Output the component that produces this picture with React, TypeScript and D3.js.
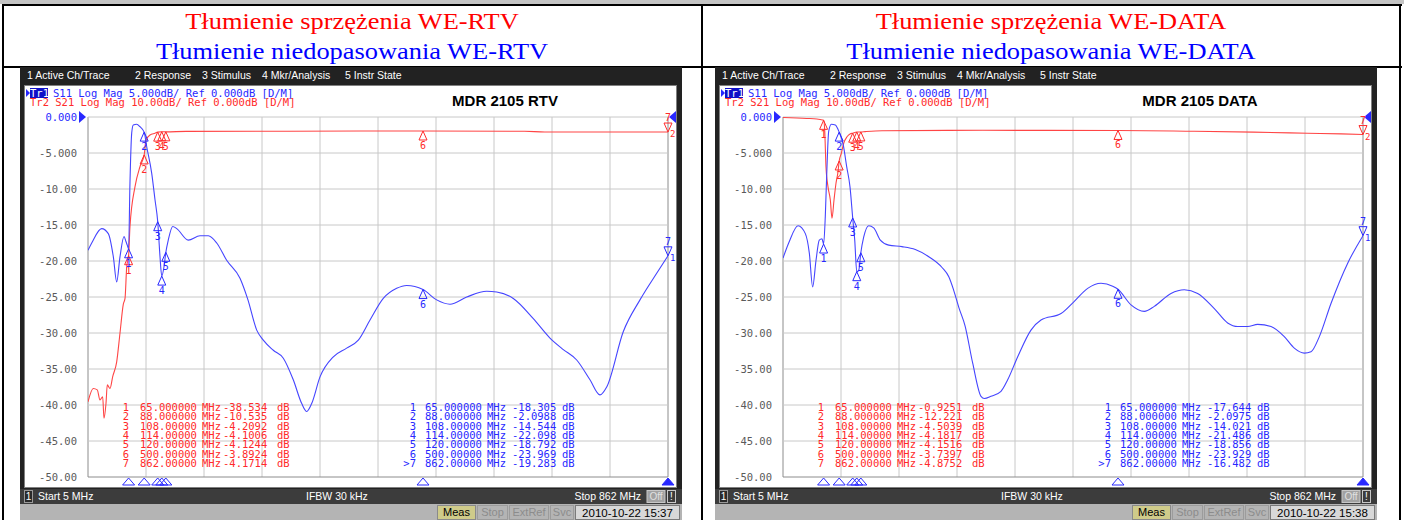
import React from "react";
import * as d3 from "d3";

type Pt = [number, number];

// ---------- DATA (frequency MHz, level dB) ----------
const rtvS11: Pt[] = [
  [5, -18.5], [10.5, -17.5], [25.2, -15.5], [35, -16.2], [42.4, -19.4], [47.4, -22.9], [52.3, -19.4],
  [58.2, -16.6], [61.1, -17.3], [63, -17.8], [65, -18.3], [67, -9.2], [69.6, -2.2], [71.9, -1.1],
  [77, -1.0], [81.8, -1.35], [88, -2.1], [91.7, -4.1], [99.1, -7.8], [104, -11.5], [108, -14.5],
  [111.4, -19.4], [114, -22.1], [117.3, -20.8], [120, -18.8], [123.6, -17.1], [130.2, -15.2],
  [136.1, -15.5], [153.2, -17.1], [170.5, -16.5], [182.8, -16.5], [195.2, -17.5], [209.9, -19.9],
  [229.6, -22.4], [241, -25.3], [254.3, -29.6], [264, -31], [278.8, -32.4], [293.6, -33.5],
  [308.3, -36.5], [320.8, -39.8], [328.2, -40.9], [335.5, -39.8], [347.8, -36.1], [367.5, -33.3],
  [387.2, -32.1], [404.4, -31], [421.7, -28.2], [441.3, -25.2], [461.1, -23.8], [475.9, -23.4],
  [500, -23.97], [520.2, -25.4], [539.9, -26], [564.6, -25], [594.1, -24.2], [608.9, -24.3],
  [633.4, -25.2], [663, -28], [687.6, -30.7], [707.3, -32.3], [727.1, -33.75], [746.7, -36.5],
  [761.5, -38.6], [771.4, -37.5], [796, -29.8], [820.6, -25.4], [845.3, -21.7], [862, -19.28],
];

const rtvS21: Pt[] = [
  [5, -79.1], [12.8, -75.4], [18.7, -75.8], [22.7, -78.6], [26.7, -77.7], [28.6, -83.7], [31.6, -79.5],
  [33.5, -74.4], [37.5, -75.4], [41.5, -72.1], [47.4, -68], [52.3, -60], [57.2, -52], [59.7, -50.4],
  [62.2, -41.6], [65, -38.53], [67, -30.5], [74.4, -19.4], [81.8, -13.8], [88, -10.54], [90.7, -6.4],
  [96.6, -5], [104, -4.5], [108, -4.21], [114, -4.1], [120, -4.12], [150, -4.0], [300, -3.95],
  [500, -3.89], [650, -3.95], [680, -4.15], [862, -4.17],
];

const dataS11: Pt[] = [
  [5, -19.6], [13.4, -17.5], [27.2, -15.1], [38, -16.2], [43.9, -18.9], [48.8, -23.6], [53.8, -19.9],
  [58.6, -17.1], [62.6, -16.9], [65, -17.64], [67.5, -13.8], [70, -6.9], [72.5, -2.0], [76.4, -1.0],
  [82.3, -1.1], [88, -2.1], [94.1, -3.9], [99.1, -6.9], [104, -9.7], [108, -14.02], [111, -17.1],
  [114, -21.49], [116.9, -21.3], [120, -18.86], [124.2, -16.7], [131.6, -15.1], [139, -15.4],
  [148.8, -17.1], [161.2, -17.8], [180.8, -18.0], [200.5, -18.4], [220.3, -19.4], [240, -20.9],
  [250, -22.2], [257, -24], [265, -26.5], [274, -29], [285.3, -34.2], [297.6, -38.8], [302.5, -39.1],
  [312.3, -38.8], [327.1, -38.1], [337, -36.5], [351.8, -33.3], [371.4, -29.6], [386.2, -28.2],
  [415.8, -27.3], [435.4, -25.6], [455.2, -23.8], [474.9, -23.1], [492.2, -23.5], [500, -23.93],
  [519.2, -26.1], [538.9, -27], [553.6, -26.3], [578.3, -24.5], [598, -24], [617.7, -24.5],
  [642.3, -26.6], [662, -28.6], [676.9, -29.1], [691.6, -29.1], [706.4, -28.8], [726.1, -29.1],
  [745.7, -30.5], [760.5, -32.1], [775.3, -32.8], [785.2, -32.6], [797.5, -30.5], [814.7, -25.9],
  [839.4, -20.3], [862, -16.48],
];

const dataS21: Pt[] = [
  [5, -0.15], [40, -0.4], [55, -0.55], [60, -0.7], [65, -0.93], [66.6, -3.6], [68.5, -13.8],
  [71.5, -19.4], [74.9, -23], [77.4, -28.1], [80.4, -23], [83.3, -18.4], [86.3, -15.2], [88, -12.22],
  [91.2, -10.1], [94.7, -7.3], [99.6, -5.5], [104, -4.7], [108, -4.5], [114, -4.18], [120, -4.15],
  [126.6, -4.05], [151.3, -3.8], [300, -3.7], [500, -3.74], [600, -3.95], [700, -4.2], [780, -4.5],
  [830, -4.7], [862, -4.875],
];

const markerFreqs = [65, 88, 108, 114, 120, 500, 862];
const rtvS21Markers = [-38.534, -10.535, -4.2092, -4.1006, -4.1244, -3.8924, -4.1714];
const rtvS11Markers = [-18.305, -2.0988, -14.544, -22.098, -18.792, -23.969, -19.283];
const dataS21Markers = [-0.9251, -12.221, -4.5039, -4.1817, -4.1516, -3.7397, -4.8752];
const dataS11Markers = [-17.644, -2.0975, -14.021, -21.486, -18.856, -23.929, -16.482];

const yTickLabels = ["0.000", "-5.000", "-10.00", "-15.00", "-20.00", "-25.00", "-30.00", "-35.00", "-40.00", "-45.00", "-50.00"];
const menuItems = ["1 Active Ch/Trace", "2 Response", "3 Stimulus", "4 Mkr/Analysis", "5 Instr State"];

// ---------- STYLE ----------
const BLUE_TR = "#4545ff";
const RED_TR = "#ff4545";
const BLUE_TX = "#2828ff";
const RED_TX = "#ff2a2a";
const MONO = "'DejaVu Sans Mono', monospace";
const SANS = "'Liberation Sans', Arial, sans-serif";
const SERIF = "'Liberation Serif', 'Times New Roman', serif";

const fmtVal = (v: number) => {
  const intLen = String(Math.trunc(Math.abs(v))).length;
  return v.toFixed(Math.max(0, 5 - intLen));
};
const fmtFreq = (f: number) => {
  const intLen = String(Math.trunc(f)).length;
  return f.toFixed(Math.max(0, 8 - intLen));
};

type PanelProps = {
  ox: number;
  id: string;
  name: string;
  date: string;
  s11: Pt[];
  s21: Pt[];
  s11m: number[];
  s21m: number[];
};

function Panel({ ox, id, name, date, s11, s21, s11m, s21m }: PanelProps) {
  const x = d3.scaleLinear().domain([5, 862]).range([88, 668]);
  const y11 = d3.scaleLinear().domain([0, -50]).range([117, 477]);
  const y21 = d3.scaleLinear().domain([0, -100]).range([117, 477]);
  const l11 = d3.line<Pt>().x((d) => x(d[0])).y((d) => y11(d[1])).curve(d3.curveMonotoneX);
  const l21 = d3.line<Pt>().x((d) => x(d[0])).y((d) => y21(d[1])).curve(d3.curveMonotoneX);
  const gridF = d3.range(11).map((i) => 5 + (i * 857) / 10);
  const gridY = d3.range(11).map((i) => -5 * i);
  const menuX = [27, 135, 202, 262, 345];
  const rowY = (i: number) => 411 + i * 9.33;

  const passive = (cx: number, cy: number, color: string, label: string, k: string) => (
    <g key={k}>
      <polygon points={`${cx},${cy} ${cx - 4},${cy + 9} ${cx + 4},${cy + 9}`} fill="none" stroke={color} strokeWidth={1} />
      <text x={cx} y={cy + 18} fontFamily={MONO} fontSize={10} fill={color} textAnchor="middle">{label}</text>
    </g>
  );
  const active = (cx: number, cy: number, color: string, label: string, tr: string, k: string) => (
    <g key={k}>
      <polygon points={`${cx - 4},${cy - 9} ${cx + 4},${cy - 9} ${cx},${cy}`} fill="none" stroke={color} strokeWidth={1} />
      <text x={cx} y={cy - 11} fontFamily={MONO} fontSize={10} fill={color} textAnchor="middle">{label}</text>
      <text x={cx + 2} y={cy + 5} fontFamily={MONO} fontSize={9} fill={color}>{tr}</text>
    </g>
  );

  return (
    <g transform={`translate(${ox},0)`}>
      <defs>
        <clipPath id={`clip-${id}`}>
          <rect x={88} y={117} width={580} height={360} />
        </clipPath>
      </defs>
      {/* instrument frame */}
      <rect x={20} y={67} width={662} height={437} fill="#222222" />
      {menuItems.map((m, i) => (
        <text key={m} x={menuX[i]} y={79} fontFamily={SANS} fontSize={10.5} fill="#ffffff">{m}</text>
      ))}
      <rect x={24.5} y={85.5} width={652} height={402} fill="#ffffff" stroke="#808080" />

      {/* trace header */}
      <polygon points="26,89 30,93 26,97" fill={BLUE_TX} />
      <rect x={30} y={88} width={18} height={10} fill="#1010c8" />
      <text x={30} y={96.5} fontFamily={MONO} fontSize={10.5} fill="#ffffff">Tr1</text>
      <text x={53} y={96.5} fontFamily={MONO} fontSize={10.5} fill={BLUE_TX}>S11 Log Mag 5.000dB/ Ref 0.000dB [D/M]</text>
      <text x={30} y={105.5} fontFamily={MONO} fontSize={10.5} fill={RED_TX}>Tr2 S21 Log Mag 10.00dB/ Ref 0.000dB [D/M]</text>
      <text x={505} y={106} fontFamily={SANS} fontSize={15} fontWeight="bold" fill="#000000" textAnchor="middle">{name}</text>

      {/* y labels */}
      {gridY.map((v, i) => (
        <text key={v} x={77} y={y11(v) + 4} fontFamily={MONO} fontSize={10.5} fill={i === 0 ? BLUE_TX : "#5a5a5a"} textAnchor="end">{yTickLabels[i]}</text>
      ))}
      <polygon points={`79,${y11(0) - 6} 86,${y11(0)} 79,${y11(0) + 6}`} fill={BLUE_TX} />
      <polygon points={`676,${y11(0) - 6} 669,${y11(0)} 676,${y11(0) + 6}`} fill={BLUE_TX} />

      {/* grid */}
      {gridF.map((f, i) => (
        <line key={"v" + i} x1={x(f)} x2={x(f)} y1={117} y2={477} stroke={i === 0 || i === 10 ? "#8c8c8c" : "#c8c8c8"} strokeWidth={1} />
      ))}
      {gridY.map((v, i) => (
        <line key={"h" + i} x1={88} x2={668} y1={y11(v)} y2={y11(v)} stroke={i === 10 ? "#8c8c8c" : "#c8c8c8"} strokeWidth={1} />
      ))}

      {/* traces */}
      <g clipPath={`url(#clip-${id})`}>
        <path d={l21(s21) || ""} fill="none" stroke={RED_TR} strokeWidth={1.1} />
        <path d={l11(s11) || ""} fill="none" stroke={BLUE_TR} strokeWidth={1.1} />
      </g>

      {/* markers on traces */}
      {markerFreqs.map((f, i) =>
        i < 6
          ? passive(x(f), y21(s21m[i]), RED_TX, String(i + 1), "r" + i)
          : active(x(f), y21(s21m[i]), RED_TX, String(i + 1), "2", "r" + i)
      )}
      {markerFreqs.map((f, i) =>
        i < 6
          ? passive(x(f), y11(s11m[i]), BLUE_TX, String(i + 1), "b" + i)
          : active(x(f), y11(s11m[i]), BLUE_TX, String(i + 1), "1", "b" + i)
      )}

      {/* marker readouts */}
      {markerFreqs.map((f, i) => (
        <g key={"rr" + i} fontFamily={MONO} fontSize={10.5} fill={RED_TX}>
          <text x={129} y={rowY(i)} textAnchor="end">{String(i + 1)}</text>
          <text x={140} y={rowY(i)}>{fmtFreq(f)}</text>
          <text x={202} y={rowY(i)}>MHz</text>
          <text x={223} y={rowY(i)}>{fmtVal(s21m[i])}</text>
          <text x={277} y={rowY(i)}>dB</text>
        </g>
      ))}
      {markerFreqs.map((f, i) => (
        <g key={"br" + i} fontFamily={MONO} fontSize={10.5} fill={BLUE_TX}>
          <text x={416} y={rowY(i)} textAnchor="end">{(i === 6 ? ">" : "") + String(i + 1)}</text>
          <text x={425} y={rowY(i)}>{fmtFreq(f)}</text>
          <text x={487} y={rowY(i)}>MHz</text>
          <text x={512} y={rowY(i)}>{fmtVal(s11m[i])}</text>
          <text x={562} y={rowY(i)}>dB</text>
        </g>
      ))}

      {/* marker position strip */}
      {markerFreqs.map((f, i) => (
        <polygon key={"s" + i} points={`${x(f) - 6},485 ${x(f)},478 ${x(f) + 6},485`} fill={i === 6 ? BLUE_TX : "none"} stroke={BLUE_TX} strokeWidth={1} />
      ))}

      {/* bottom bar */}
      <rect x={20} y={489} width={662} height={15} fill="#3c3c3c" />
      <rect x={24.5} y={490.5} width={8} height={12} fill="#2a2a2a" stroke="#9a9a9a" />
      <text x={28.5} y={500} fontFamily={SANS} fontSize={10} fill="#ffffff" textAnchor="middle">1</text>
      <text x={38} y={500} fontFamily={SANS} fontSize={10.5} fill="#ffffff">Start 5 MHz</text>
      <text x={306} y={500} fontFamily={SANS} fontSize={10.5} fill="#ffffff">IFBW 30 kHz</text>
      <text x={641} y={500} fontFamily={SANS} fontSize={10.5} fill="#ffffff" textAnchor="end">Stop 862 MHz</text>
      <rect x={647} y={490.5} width={18} height={12} fill="#a2a2a2" stroke="#c8c8c8" />
      <text x={656} y={500} fontFamily={SANS} fontSize={10} fill="#e0e0e0" textAnchor="middle">Off</text>
      <rect x={667.5} y={490.5} width={8} height={12} fill="#3c3c3c" stroke="#c8c8c8" />
      <text x={671.5} y={500} fontFamily={SANS} fontSize={10} fill="#ffffff" textAnchor="middle">!</text>

      {/* status bar */}
      <rect x={20} y={504} width={662} height={16} fill="#b4b4b4" />
      <rect x={437.5} y={505.5} width={38} height={14} fill="#cfcb8a" stroke="#8a8a8a" />
      <text x={456.5} y={516} fontFamily={SANS} fontSize={11} fill="#000000" textAnchor="middle">Meas</text>
      <rect x={477.5} y={505.5} width={30} height={14} fill="#b4b4b4" stroke="#9c9c9c" />
      <text x={492.5} y={516} fontFamily={SANS} fontSize={11} fill="#8c8c8c" textAnchor="middle">Stop</text>
      <rect x={509.5} y={505.5} width={39} height={14} fill="#b4b4b4" stroke="#9c9c9c" />
      <text x={529} y={516} fontFamily={SANS} fontSize={11} fill="#8c8c8c" textAnchor="middle">ExtRef</text>
      <rect x={550.5} y={505.5} width={23} height={14} fill="#b4b4b4" stroke="#9c9c9c" />
      <text x={562} y={516} fontFamily={SANS} fontSize={11} fill="#8c8c8c" textAnchor="middle">Svc</text>
      <rect x={575.5} y={505.5} width={104} height={14} fill="#d8d8d8" stroke="#7a7a7a" />
      <text x={627.5} y={516.5} fontFamily={SANS} fontSize={11.5} fill="#000000" textAnchor="middle">{date}</text>
    </g>
  );
}

const Title = ({ cx, y, color, children }: { cx: number; y: number; color: string; children: string }) => (
  <text transform={`translate(${cx},${y}) scale(1.1,1)`} x={0} y={0} fontFamily={SERIF} fontSize={24} fill={color} textAnchor="middle">
    {children}
  </text>
);

export default function App() {
  return (
    <svg
      width={1404}
      height={520}
      viewBox="0 0 1404 520"
      style={{ position: "absolute", left: 0, top: 0, display: "block", background: "#ffffff" }}
    >
      <rect x={0} y={0} width={1404} height={520} fill="#ffffff" />
      {/* table frame */}
      <rect x={0} y={0} width={1404} height={4} fill="#c4c4c4" />
      <rect x={2} y={4} width={1400} height={2} fill="#000000" />
      <rect x={2} y={66} width={1400} height={2} fill="#000000" />
      <rect x={2} y={4} width={2} height={516} fill="#000000" />
      <rect x={701} y={4} width={2} height={516} fill="#000000" />
      <rect x={1399} y={4} width={2} height={516} fill="#000000" />

      {/* titles */}
      <Title cx={352} y={29} color="#ff0000">Tłumienie sprzężenia WE-RTV</Title>
      <Title cx={352} y={59} color="#0000ff">Tłumienie niedopasowania WE-RTV</Title>
      <Title cx={1051} y={29} color="#ff0000">Tłumienie sprzężenia WE-DATA</Title>
      <Title cx={1051} y={59} color="#0000ff">Tłumienie niedopasowania WE-DATA</Title>

      <Panel ox={0} id="rtv" name="MDR 2105 RTV" date="2010-10-22 15:37" s11={rtvS11} s21={rtvS21} s11m={rtvS11Markers} s21m={rtvS21Markers} />
      <Panel ox={695} id="data" name="MDR 2105 DATA" date="2010-10-22 15:38" s11={dataS11} s21={dataS21} s11m={dataS11Markers} s21m={dataS21Markers} />
    </svg>
  );
}
